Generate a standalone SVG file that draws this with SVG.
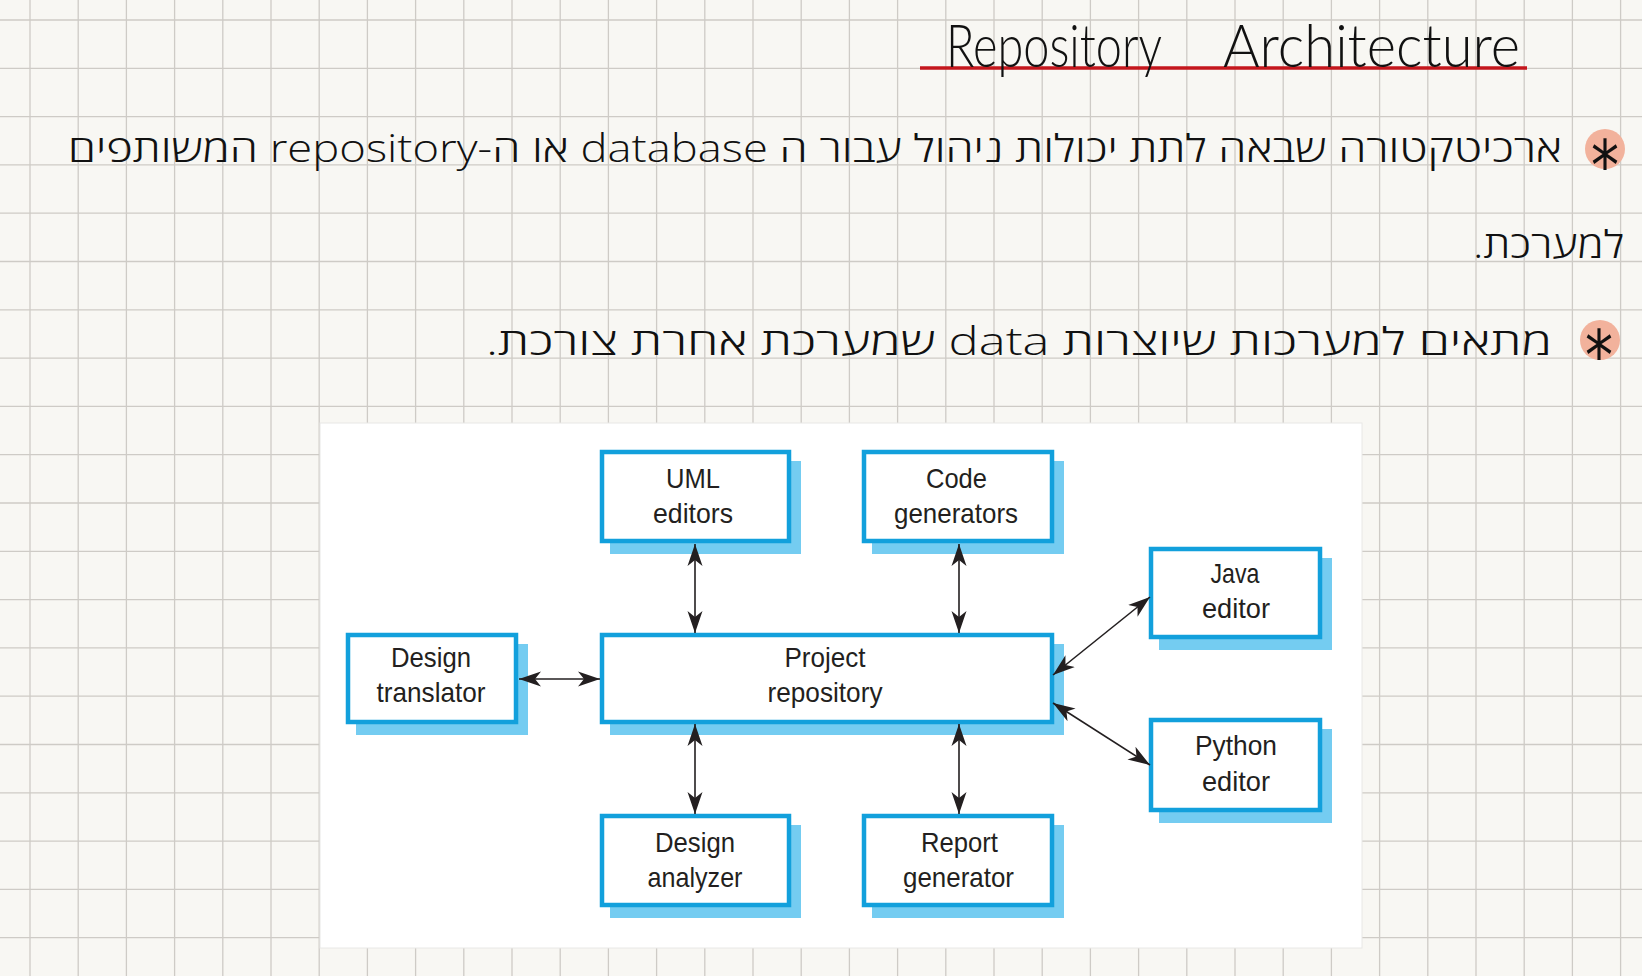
<svg xmlns="http://www.w3.org/2000/svg" width="1642" height="976" viewBox="0 0 1642 976">
<style>
.grid{stroke:#cecbc6;stroke-width:1.3;fill:none}
.hand{font-family:"Open Sans","DejaVu Sans","Liberation Sans",sans-serif;font-weight:300;fill:#111;}
.title{font-family:"Lato","Liberation Sans",sans-serif;font-weight:300;fill:#111;font-size:60px}
.bullet{fill:#f2b29c}
.star{font-family:"DejaVu Sans",sans-serif;font-size:70px;fill:#111}
.box{fill:#ffffff;stroke:#12a0dc;stroke-width:4.5}
.shadow{fill:#74ccf1}
.lbl{font-family:"Liberation Sans",Arial,sans-serif;font-size:28px;fill:#231f20;text-anchor:middle}
.conn{stroke:#231f20;stroke-width:1.6;fill:none;marker-start:url(#ah);marker-end:url(#ah)}
</style>
<defs>
<marker id="ah" markerUnits="userSpaceOnUse" markerWidth="24" markerHeight="18" refX="22" refY="9" orient="auto-start-reverse">
<path d="M0,1.5 L22,9 L0,16.5 L6,9 Z" fill="#231f20"/>
</marker>
</defs>
<rect x="0" y="0" width="1642" height="976" fill="#f8f7f3"/>
<path class="grid" d="M30 0V976M78.2 0V976M126.4 0V976M174.6 0V976M222.8 0V976M271 0V976M319.2 0V976M367.4 0V976M415.6 0V976M463.8 0V976M512 0V976M560.2 0V976M608.4 0V976M656.6 0V976M704.8 0V976M753 0V976M801.2 0V976M849.4 0V976M897.6 0V976M945.8 0V976M994 0V976M1042.2 0V976M1090.4 0V976M1138.6 0V976M1186.8 0V976M1235 0V976M1283.2 0V976M1331.4 0V976M1379.6 0V976M1427.8 0V976M1476 0V976M1524.2 0V976M1572.4 0V976M1620.6 0V976M0 20H1642M0 68.3H1642M0 116.6H1642M0 164.9H1642M0 213.2H1642M0 261.5H1642M0 309.8H1642M0 358.1H1642M0 406.4H1642M0 454.7H1642M0 503H1642M0 551.3H1642M0 599.6H1642M0 647.9H1642M0 696.2H1642M0 744.5H1642M0 792.8H1642M0 841.1H1642M0 889.4H1642M0 937.7H1642"/>

<g id="title">
<line x1="920" y1="68" x2="1527" y2="68" stroke="#c4161c" stroke-width="3.5"/>
<text class="title" x="946" y="67" textLength="216" lengthAdjust="spacingAndGlyphs">Repository</text>
<text class="title" x="1223" y="67" textLength="297" lengthAdjust="spacingAndGlyphs">Architecture</text>
</g>

<g id="bullet1">
<circle class="bullet" cx="1605" cy="149" r="20"/>
<text class="star" transform="translate(1605,190) scale(0.8,1)" text-anchor="middle">*</text>
<text class="hand" x="1562" y="162" font-size="38" direction="rtl" text-anchor="start" textLength="1494" lengthAdjust="spacingAndGlyphs">ארכיטקטורה שבאה לתת יכולות ניהול עבור ה database או ה-repository המשותפים</text>
<text class="hand" x="1624" y="258" font-size="38" direction="rtl" text-anchor="start" textLength="151" lengthAdjust="spacingAndGlyphs">למערכת.</text>
</g>

<g id="bullet2">
<circle class="bullet" cx="1600" cy="340" r="20"/>
<text class="star" transform="translate(1599,380) scale(0.8,1)" text-anchor="middle">*</text>
<text class="hand" x="1552" y="355" font-size="38" direction="rtl" text-anchor="start" textLength="1066" lengthAdjust="spacingAndGlyphs">מתאים למערכות שיוצרות data שמערכת אחרת צורכת.</text>
</g>

<rect id="panel" x="320" y="423" width="1042" height="525" fill="#ffffff" stroke="#e8e8e6" stroke-width="1"/>

<g id="uml-editors">
<rect class="shadow" x="610" y="461" width="191" height="93"/>
<rect class="box" x="602" y="452" width="187" height="89"/>
<text class="lbl" x="693" y="488" textLength="54" lengthAdjust="spacingAndGlyphs">UML</text>
<text class="lbl" x="693" y="523" textLength="80" lengthAdjust="spacingAndGlyphs">editors</text>
</g>
<g id="code-generators">
<rect class="shadow" x="872" y="461" width="192" height="93"/>
<rect class="box" x="864" y="452" width="188" height="89"/>
<text class="lbl" x="956.5" y="488" textLength="61" lengthAdjust="spacingAndGlyphs">Code</text>
<text class="lbl" x="956" y="523" textLength="124" lengthAdjust="spacingAndGlyphs">generators</text>
</g>
<g id="design-translator">
<rect class="shadow" x="356" y="644" width="172" height="91"/>
<rect class="box" x="348" y="635" width="168" height="87"/>
<text class="lbl" x="431" y="667" textLength="80" lengthAdjust="spacingAndGlyphs">Design</text>
<text class="lbl" x="431" y="702" textLength="109" lengthAdjust="spacingAndGlyphs">translator</text>
</g>
<g id="project-repository">
<rect class="shadow" x="610" y="644" width="454" height="91"/>
<rect class="box" x="602" y="635" width="450" height="87"/>
<text class="lbl" x="825" y="667" textLength="81" lengthAdjust="spacingAndGlyphs">Project</text>
<text class="lbl" x="825" y="702" textLength="115" lengthAdjust="spacingAndGlyphs">repository</text>
</g>
<g id="java-editor">
<rect class="shadow" x="1159" y="558" width="173" height="92"/>
<rect class="box" x="1151" y="549" width="169" height="88"/>
<text class="lbl" x="1235" y="583" textLength="49" lengthAdjust="spacingAndGlyphs">Java</text>
<text class="lbl" x="1236" y="618" textLength="68" lengthAdjust="spacingAndGlyphs">editor</text>
</g>
<g id="python-editor">
<rect class="shadow" x="1159" y="729" width="173" height="94"/>
<rect class="box" x="1151" y="720" width="169" height="90"/>
<text class="lbl" x="1236" y="755" textLength="82" lengthAdjust="spacingAndGlyphs">Python</text>
<text class="lbl" x="1236" y="791" textLength="68" lengthAdjust="spacingAndGlyphs">editor</text>
</g>
<g id="design-analyzer">
<rect class="shadow" x="610" y="825" width="191" height="93"/>
<rect class="box" x="602" y="816" width="187" height="89"/>
<text class="lbl" x="695" y="852" textLength="80" lengthAdjust="spacingAndGlyphs">Design</text>
<text class="lbl" x="695" y="887" textLength="95" lengthAdjust="spacingAndGlyphs">analyzer</text>
</g>
<g id="report-generator">
<rect class="shadow" x="872" y="825" width="192" height="93"/>
<rect class="box" x="864" y="816" width="188" height="89"/>
<text class="lbl" x="959.5" y="852" textLength="77" lengthAdjust="spacingAndGlyphs">Report</text>
<text class="lbl" x="958.5" y="887" textLength="111" lengthAdjust="spacingAndGlyphs">generator</text>
</g>

<g id="connectors">
<path class="conn" d="M695,544 L695,633"/>
<path class="conn" d="M959,544 L959,633"/>
<path class="conn" d="M519,679 L600,679"/>
<path class="conn" d="M695,724 L695,814"/>
<path class="conn" d="M959,724 L959,814"/>
<path class="conn" d="M1053,675 L1150,597"/>
<path class="conn" d="M1053,703 L1150,765"/>
</g>
</svg>
